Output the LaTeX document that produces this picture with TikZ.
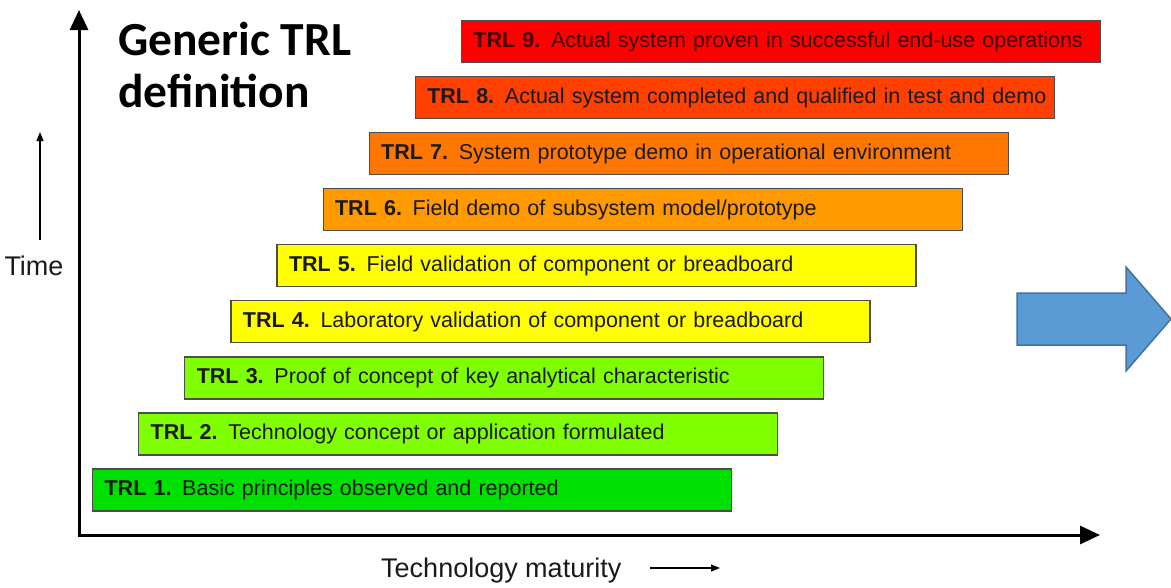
\documentclass[tikz,border=0pt]{standalone}
\usepackage{fontspec}
\setmainfont{Liberation Sans}
\newfontfamily\titlefont{Carlito}
\usetikzlibrary{arrows.meta}
\definecolor{cA}{HTML}{00E000}
\definecolor{cB}{HTML}{80FF00}
\definecolor{cC}{HTML}{FFFF00}
\definecolor{cD}{HTML}{FF9900}
\definecolor{cE}{HTML}{FF7700}
\definecolor{cF}{HTML}{FF4000}
\definecolor{cG}{HTML}{FF0000}
\definecolor{barline}{HTML}{4D4D4D}
\definecolor{txt}{HTML}{1A1A1A}
\definecolor{blueA}{HTML}{5B9BD5}
\definecolor{blueB}{HTML}{41719C}
\begin{document}
\begin{tikzpicture}[x=1pt,y=-1pt,
  trl/.style={draw=barline, line width=1.2pt, text width=615pt, align=left,
    inner xsep=12pt, inner ysep=0pt, minimum height=42pt, anchor=west,
    font=\fontsize{21.5}{24}\selectfont, text=txt},
  axis/.style={line width=3pt, -{Triangle[length=20pt,width=18pt]}},
  smallarrow/.style={line width=1.2pt, -{Triangle[length=9pt,width=7pt]}},
  lbl/.style={font=\fontsize{27}{30}\selectfont, text=txt, inner sep=0pt},
  ttl/.style={font=\titlefont\bfseries\fontsize{47.5}{50}\selectfont, anchor=base west, inner sep=0pt}]
\useasboundingbox (0,0) rectangle (1171,587);

% axes
\coordinate (O) at (79,535);
\coordinate (ytip) at (79,10);
\coordinate (xtip) at (1100,535);
\draw[axis] (O) -- (ytip);
\draw[axis] ([xshift=-1.5pt]O) -- (xtip);

% title
\node[ttl] (title1) at (118,55) {Generic TRL};
\node[ttl] (title2) at (118,107) {definition};

% bars
\node[trl, fill=cA] (t1) at (92,490) {\mbox{\textbf{TRL 1.} Basic principles observed and reported}};
\node[trl, fill=cB] (t2) at (138.1,433.9) {\mbox{\textbf{TRL 2.} Technology concept or application formulated}};
\node[trl, fill=cB] (t3) at (184.2,377.9) {\mbox{\textbf{TRL 3.} Proof of concept of key analytical characteristic}};
\node[trl, fill=cC] (t4) at (230.3,321.8) {\mbox{\textbf{TRL 4.} Laboratory validation of component or breadboard}};
\node[trl, fill=cC] (t5) at (276.4,265.7) {\mbox{\textbf{TRL 5.} Field validation of component or breadboard}};
\node[trl, fill=cD] (t6) at (322.5,209.7) {\mbox{\textbf{TRL 6.} Field demo of subsystem model/prototype}};
\node[trl, fill=cE] (t7) at (368.6,153.6) {\mbox{\textbf{TRL 7.} System prototype demo in operational environment}};
\node[trl, fill=cF] (t8) at (414.7,97.5) {\mbox{\textbf{TRL 8.} Actual system completed and qualified in test and demo}};
\node[trl, fill=cG, text=black!75!red] (t9) at (460.8,41.5) {\mbox{\textbf{TRL 9.} Actual system proven in successful end-use operations}};

% Time label
\node[lbl] (time) at (34,266) {Time};
\coordinate (timeA) at (40,240);
\coordinate (timeB) at (40,132);
\draw[smallarrow] (timeA) -- (timeB);

% Technology maturity label
\node[lbl, anchor=base west] (tm) at (381,577) {Technology maturity};
\coordinate (tmA) at (650,568);
\coordinate (tmB) at (720,568);
\draw[smallarrow] (tmA) -- (tmB);

% blue block arrow
\draw[fill=blueA, draw=blueB, line width=1.5pt, line join=miter]
  (1017,293) -- (1126,293) -- (1126,267) -- (1171,319) -- (1126,371) -- (1126,345) -- (1017,345) -- cycle;
\end{tikzpicture}
\end{document}
